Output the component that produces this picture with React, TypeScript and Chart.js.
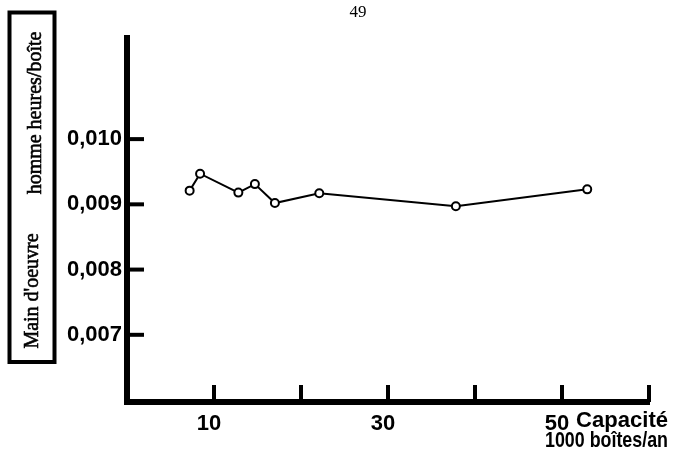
import React, { useEffect, useRef } from 'react';
import { Chart, registerables } from 'chart.js';

Chart.register(...registerables);

// ---- data ----
const capacity = [7.2, 8.4, 12.8, 14.7, 17.0, 22.1, 37.8, 52.9];
const labour = [0.00921, 0.00947, 0.00918, 0.00931, 0.00902, 0.00917, 0.00897, 0.00923];
const xTickValues = [10, 20, 30, 40, 50, 60];
const xTickLabels = ['10', '', '30', '', '50', ''];
const yTickValues = [0.007, 0.008, 0.009, 0.01];
const yTickLabels = ['0,007', '0,008', '0,009', '0,010'];
const pageTitle = '49';
const yTitleLower = "Main d'oeuvre";
const yTitleUpper = 'homme heures/boîte';
const xTitleFirst = 'Capacité';
const xTitleSecond = '1000 boîtes/an';

const tickFont = { family: '"Liberation Sans", Arial, sans-serif', weight: 'bold' as const, size: 22 };

const decor = {
  id: 'decor',
  afterDraw(chart: any) {
    const ctx = chart.ctx as CanvasRenderingContext2D;
    const xs = chart.scales.x;
    const ys = chart.scales.y;
    ctx.save();
    ctx.strokeStyle = '#000';
    ctx.fillStyle = '#000';
    // tick marks (inward)
    ctx.lineWidth = 4;
    xTickValues.forEach((v) => {
      const px = xs.getPixelForValue(v);
      ctx.beginPath();
      ctx.moveTo(px, xs.top - 17);
      ctx.lineTo(px, xs.top);
      ctx.stroke();
    });
    yTickValues.forEach((v) => {
      const py = ys.getPixelForValue(v);
      ctx.beginPath();
      ctx.moveTo(ys.right, py);
      ctx.lineTo(ys.right + 17, py);
      ctx.stroke();
    });
    // page number
    ctx.font = '17px "Liberation Serif", serif';
    ctx.textAlign = 'center';
    ctx.textBaseline = 'middle';
    ctx.fillText(pageTitle, 358, 13);
    // y title box
    ctx.lineWidth = 4;
    ctx.strokeRect(9.5, 12.5, 45, 349.5);
    ctx.font = '20px "Liberation Serif", serif';
    ctx.textAlign = 'center';
    ctx.textBaseline = 'alphabetic';
    ctx.lineWidth = 0.6;
    ctx.save();
    ctx.translate(38, 291);
    ctx.rotate(-Math.PI / 2);
    ctx.fillText(yTitleLower, 0, 0);
    ctx.strokeText(yTitleLower, 0, 0);
    ctx.restore();
    ctx.save();
    ctx.translate(41, 113);
    ctx.rotate(-Math.PI / 2);
    ctx.fillText(yTitleUpper, 0, 0);
    ctx.strokeText(yTitleUpper, 0, 0);
    ctx.restore();
    // x title
    ctx.font = 'bold 22px "Liberation Sans", Arial, sans-serif';
    ctx.textAlign = 'left';
    ctx.textBaseline = 'middle';
    const w1 = ctx.measureText(xTitleFirst).width;
    ctx.save();
    ctx.translate(576, 421);
    ctx.scale(92 / w1, 1);
    ctx.fillText(xTitleFirst, 0, 0);
    ctx.restore();
    ctx.textAlign = 'right';
    const w2 = ctx.measureText(xTitleSecond).width;
    ctx.save();
    ctx.translate(668, 441);
    ctx.scale(123 / w2, 1);
    ctx.fillText(xTitleSecond, 0, 0);
    ctx.restore();
    ctx.restore();
  },
};

export default function App() {
  const ref = useRef<HTMLCanvasElement>(null);
  useEffect(() => {
    const chart = new Chart(ref.current as HTMLCanvasElement, {
      type: 'scatter',
      data: {
        datasets: [
          {
            data: capacity.map((x, i) => ({ x, y: labour[i] })),
            showLine: true,
            borderColor: '#000',
            borderWidth: 2,
            pointRadius: 4,
            pointBorderWidth: 2,
            pointBackgroundColor: '#fff',
            pointBorderColor: '#000',
          },
        ],
      },
      options: {
        responsive: false,
        maintainAspectRatio: false,
        animation: false,
        layout: { padding: { left: 0, top: 38, right: 24, bottom: 0 } },
        plugins: { legend: { display: false }, tooltip: { enabled: false } },
        scales: {
          x: {
            type: 'linear',
            min: 0,
            max: 60,
            grid: { display: false, drawTicks: false },
            border: { display: true, color: '#000', width: 6 },
            ticks: {
              stepSize: 10,
              autoSkip: false,
              maxRotation: 0,
              padding: 9,
              labelOffset: -5,
              color: '#000',
              font: tickFont,
              callback: (v: any) => {
                const i = xTickValues.findIndex((t) => Math.abs(t - Number(v)) < 1e-6);
                return i >= 0 ? xTickLabels[i] : '';
              },
            },
            afterFit: (s: any) => {
              s.height = 56;
            },
          },
          y: {
            type: 'linear',
            min: 0.00597,
            max: 0.01155,
            grid: { display: false, drawTicks: false },
            border: { display: true, color: '#000', width: 6 },
            ticks: {
              stepSize: 0.001,
              autoSkip: false,
              padding: 5,
              color: '#000',
              font: tickFont,
              callback: (v: any) => {
                const i = yTickValues.findIndex((t) => Math.abs(t - Number(v)) < 1e-7);
                return i >= 0 ? yTickLabels[i] : '';
              },
            },
            afterFit: (s: any) => {
              s.width = 127;
            },
          },
        },
      },
      plugins: [decor],
    });
    return () => chart.destroy();
  }, []);
  return (
    <div style={{ position: 'absolute', left: 0, top: 0, width: 673, height: 458, background: '#fff' }}>
      <canvas ref={ref} width={673} height={458} style={{ display: 'block' }} />
    </div>
  );
}
